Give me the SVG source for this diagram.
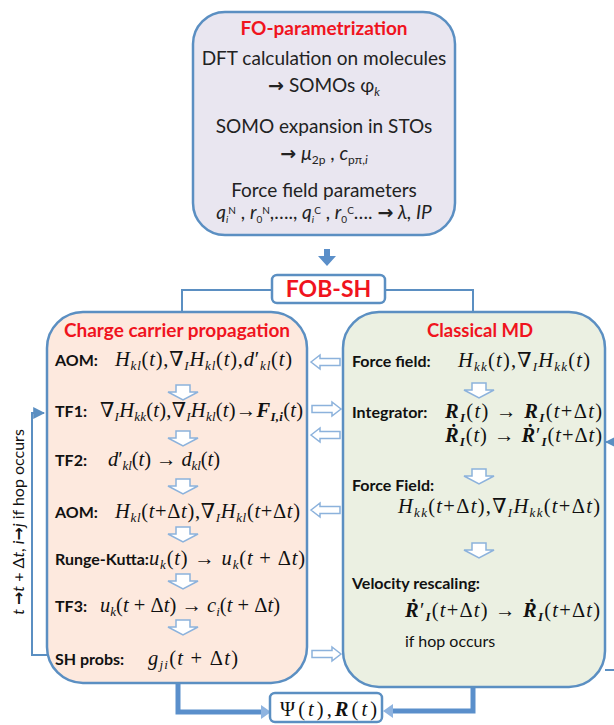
<svg xmlns="http://www.w3.org/2000/svg" width="614" height="725" viewBox="0 0 614 725">
<style>
.box{stroke:#5b8fc2;stroke-width:2.5}
.ln{fill:none;stroke:#5b8fc2;stroke-width:2}
.ha{fill:#fff;stroke:#8cb2dc;stroke-width:1.5}
.tt{font-family:Lato,"Liberation Sans",sans-serif;font-size:19px;fill:#222}
.ttl{font-family:Lato,"Liberation Sans",sans-serif;font-weight:bold;fill:#f0141e}
.lb{font-family:Lato,"Liberation Sans",sans-serif;font-weight:bold;font-size:16px;fill:#111}
.rg{font-family:Lato,"Liberation Sans",sans-serif;font-size:16px;fill:#111}
.m{font-family:"Liberation Serif","DejaVu Serif",serif;font-style:italic;font-size:20.5px;fill:#111}
.u{font-style:normal}
.s{font-size:13px}
.bi{font-weight:bold}
.ar{font-family:"DejaVu Sans",sans-serif;font-weight:bold;font-style:normal}
</style>
<defs>
<path id="dn" class="ha" d="M-7,0 H7 V7 H15 L0,15 L-15,7 H-7 Z"/>
<path id="lt" class="ha" d="M0,0 L9,-7 V-3.5 H29 V3.5 H9 V7 Z"/>
<path id="rt" class="ha" d="M0,0 L-9,-7 V-3.5 H-29 V3.5 H-9 V7 Z"/>
<marker id="ah" viewBox="0 0 10 10" refX="9" refY="5" markerWidth="6" markerHeight="6" orient="auto"><path d="M0,0 L10,5 L0,10 Z" fill="#5b8fc2"/></marker>
</defs>

<g id="connectors">
<path d="M324,249 H330 V256 H336 L327,266 L318,256 H324 Z" fill="#5b8fc9"/>
<path class="ln" d="M272,290 H182 V312"/>
<path class="ln" d="M385,290 H473 V312"/>
<path class="ln" d="M47,655 H32 V413 H44" stroke-width="1.5" marker-end="url(#ah)"/>
<path class="ln" d="M614,670 H605"/>
<path class="ln" d="M614,442 H606" marker-end="url(#ah)"/>
<use href="#lt" x="311" y="362"/>
<use href="#rt" x="341" y="409"/>
<use href="#lt" x="311" y="435"/>
<use href="#lt" x="311" y="510"/>
<use href="#rt" x="341" y="654"/>
<path d="M178,684 V712 H262" fill="none" stroke="#5a8fcb" stroke-width="5"/>
<path d="M261,705 L271,712 L261,719 Z" fill="#8fb4e0"/>
<path d="M473,688 V711 H392" fill="none" stroke="#5a8fcb" stroke-width="5"/>
<path d="M393,704 L383,711 L393,718 Z" fill="#8fb4e0"/>
</g>

<g id="fo-param">
<rect class="box" x="193" y="12" width="262" height="223" rx="32" fill="#e9e6f0"/>
<text class="ttl" x="324" y="35" text-anchor="middle" font-size="19">FO-parametrization</text>
<text class="tt" x="324" y="65" text-anchor="middle">DFT calculation on molecules</text>
<text class="tt" x="324" y="92" text-anchor="middle"><tspan class="ar">→</tspan> SOMOs φ<tspan font-style="italic" font-size="12" dy="4">k</tspan></text>
<text class="tt" x="324" y="133" text-anchor="middle">SOMO expansion in STOs</text>
<text class="tt" x="324" y="160" text-anchor="middle"><tspan class="ar">→</tspan> <tspan font-style="italic">μ</tspan><tspan font-size="12" dy="4">2p</tspan><tspan dy="-4"> , </tspan><tspan font-style="italic">c</tspan><tspan font-size="12" dy="4">pπ,</tspan><tspan font-size="12" font-style="italic">i</tspan></text>
<text class="tt" x="324" y="197" text-anchor="middle">Force field parameters</text>
<text class="tt" x="324" y="219" text-anchor="middle"><tspan font-style="italic">q</tspan><tspan font-size="10" font-style="italic" dy="4">i</tspan><tspan font-size="10" dy="-9">N</tspan><tspan dy="5"> , </tspan><tspan font-style="italic">r</tspan><tspan font-size="10" dy="4">0</tspan><tspan font-size="10" dy="-9">N</tspan><tspan dy="5">,…., </tspan><tspan font-style="italic">q</tspan><tspan font-size="10" font-style="italic" dy="4">i</tspan><tspan font-size="10" dy="-9">C</tspan><tspan dy="5"> , </tspan><tspan font-style="italic">r</tspan><tspan font-size="10" dy="4">0</tspan><tspan font-size="10" dy="-9">C</tspan><tspan dy="5">…. </tspan><tspan class="ar">→</tspan><tspan font-style="italic"> λ, IP</tspan></text>
</g>

<g id="fob-sh">
<rect class="box" x="272" y="275" width="113" height="28" rx="5" fill="#fff"/>
<text class="ttl" x="328.5" y="297" text-anchor="middle" font-size="23">FOB-SH</text>
</g>

<g id="charge-carrier">
<rect class="box" x="47" y="312" width="260" height="371" rx="36" fill="#fde9de"/>
<text class="ttl" x="177" y="337" text-anchor="middle" font-size="19">Charge carrier propagation</text>
<text class="lb" x="55" y="366">AOM:</text>
<text class="m" x="115" y="366" textLength="177">H<tspan class="s" dy="4">kl</tspan><tspan class="u" dy="-4">(</tspan>t<tspan class="u">),∇</tspan><tspan class="s" dy="4">I</tspan><tspan dy="-4">H</tspan><tspan class="s" dy="4">kl</tspan><tspan class="u" dy="-4">(</tspan>t<tspan class="u">),</tspan>d<tspan class="u">′</tspan><tspan class="s" dy="4">kl</tspan><tspan class="u" dy="-4">(</tspan>t<tspan class="u">)</tspan></text>
<use href="#dn" x="183" y="385"/>
<text class="lb" x="55" y="417">TF1:</text>
<text class="m" x="100" y="417" textLength="203"><tspan class="u">∇</tspan><tspan class="s" dy="4">I</tspan><tspan dy="-4">H</tspan><tspan class="s" dy="4">kk</tspan><tspan class="u" dy="-4">(</tspan>t<tspan class="u">),∇</tspan><tspan class="s" dy="4">I</tspan><tspan dy="-4">H</tspan><tspan class="s" dy="4">kl</tspan><tspan class="u" dy="-4">(</tspan>t<tspan class="u">)→</tspan><tspan class="bi">F</tspan><tspan class="s bi" dy="4">I,i</tspan><tspan class="u" dy="-4">(</tspan>t<tspan class="u">)</tspan></text>
<use href="#dn" x="183" y="431"/>
<text class="lb" x="55" y="466">TF2:</text>
<text class="m" x="108" y="466" textLength="112">d<tspan class="u">′</tspan><tspan class="s" dy="4">kl</tspan><tspan class="u" dy="-4">(</tspan>t<tspan class="u">) → </tspan>d<tspan class="s" dy="4">kl</tspan><tspan class="u" dy="-4">(</tspan>t<tspan class="u">)</tspan></text>
<use href="#dn" x="183" y="479"/>
<text class="lb" x="55" y="518">AOM:</text>
<text class="m" x="115" y="518" textLength="185">H<tspan class="s" dy="4">kl</tspan><tspan class="u" dy="-4">(</tspan>t<tspan class="u">+Δ</tspan>t<tspan class="u">),∇</tspan><tspan class="s" dy="4">I</tspan><tspan dy="-4">H</tspan><tspan class="s" dy="4">kl</tspan><tspan class="u" dy="-4">(</tspan>t<tspan class="u">+Δ</tspan>t<tspan class="u">)</tspan></text>
<use href="#dn" x="183" y="527"/>
<text class="lb" x="55" y="565">Runge-Kutta:</text>
<text class="m" x="149" y="565" textLength="156">u<tspan class="s" dy="4">k</tspan><tspan class="u" dy="-4">(</tspan>t<tspan class="u">) → </tspan>u<tspan class="s" dy="4">k</tspan><tspan class="u" dy="-4">(</tspan>t<tspan class="u"> + Δ</tspan>t<tspan class="u">)</tspan></text>
<use href="#dn" x="183" y="574"/>
<text class="lb" x="55" y="612">TF3:</text>
<text class="m" x="100" y="612" textLength="180">u<tspan class="s" dy="4">k</tspan><tspan class="u" dy="-4">(</tspan>t<tspan class="u"> + Δ</tspan>t<tspan class="u">) → </tspan>c<tspan class="s" dy="4">i</tspan><tspan class="u" dy="-4">(</tspan>t<tspan class="u"> + Δ</tspan>t<tspan class="u">)</tspan></text>
<use href="#dn" x="183" y="620"/>
<text class="lb" x="55" y="665">SH probs:</text>
<text class="m" x="148" y="665" textLength="90">g<tspan class="s" dy="4">ji</tspan><tspan class="u" dy="-4">(</tspan>t<tspan class="u"> + Δ</tspan>t<tspan class="u">)</tspan></text>
</g>

<g id="classical-md">
<rect class="box" x="343" y="312" width="262" height="375" rx="36" fill="#ebf0e2"/>
<text class="ttl" x="480" y="337" text-anchor="middle" font-size="18.5">Classical MD</text>
<text class="lb" x="352" y="367">Force field:</text>
<text class="m" x="458" y="367" textLength="132">H<tspan class="s" dy="4">kk</tspan><tspan class="u" dy="-4">(</tspan>t<tspan class="u">),∇</tspan><tspan class="s" dy="4">I</tspan><tspan dy="-4">H</tspan><tspan class="s" dy="4">kk</tspan><tspan class="u" dy="-4">(</tspan>t<tspan class="u">)</tspan></text>
<use href="#dn" x="479" y="383"/>
<text class="lb" x="352" y="418">Integrator:</text>
<text class="m" x="445" y="418" textLength="157"><tspan class="bi">R</tspan><tspan class="s bi" dy="4">I</tspan><tspan class="u" dy="-4">(</tspan>t<tspan class="u">) → </tspan><tspan class="bi">R</tspan><tspan class="s bi" dy="4">I</tspan><tspan class="u" dy="-4">(</tspan>t<tspan class="u">+Δ</tspan>t<tspan class="u">)</tspan></text>
<text class="m" x="445" y="442" textLength="157"><tspan class="bi">Ṙ</tspan><tspan class="s bi" dy="4">I</tspan><tspan class="u" dy="-4">(</tspan>t<tspan class="u">) → </tspan><tspan class="bi">Ṙ</tspan><tspan class="u">′</tspan><tspan class="s bi" dy="4">I</tspan><tspan class="u" dy="-4">(</tspan>t<tspan class="u">+Δ</tspan>t<tspan class="u">)</tspan></text>
<use href="#dn" x="479" y="469"/>
<text class="lb" x="352" y="491">Force Field:</text>
<text class="m" x="398" y="513" textLength="202">H<tspan class="s" dy="4">kk</tspan><tspan class="u" dy="-4">(</tspan>t<tspan class="u">+Δ</tspan>t<tspan class="u">),∇</tspan><tspan class="s" dy="4">I</tspan><tspan dy="-4">H</tspan><tspan class="s" dy="4">kk</tspan><tspan class="u" dy="-4">(</tspan>t<tspan class="u">+Δ</tspan>t<tspan class="u">)</tspan></text>
<use href="#dn" x="479" y="543"/>
<text class="lb" x="352" y="589">Velocity rescaling:</text>
<text class="m" x="405" y="617" textLength="195"><tspan class="bi">Ṙ</tspan><tspan class="u">′</tspan><tspan class="s bi" dy="4">I</tspan><tspan class="u" dy="-4">(</tspan>t<tspan class="u">+Δ</tspan>t<tspan class="u">) → </tspan><tspan class="bi">Ṙ</tspan><tspan class="s bi" dy="4">I</tspan><tspan class="u" dy="-4">(</tspan>t<tspan class="u">+Δ</tspan>t<tspan class="u">)</tspan></text>
<text class="rg" x="405" y="647">if hop occurs</text>
</g>

<g id="loop-label">
<text class="rg" transform="translate(24,522) rotate(-90)" text-anchor="middle" font-size="16.5"><tspan font-style="italic">t</tspan> <tspan class="ar">→</tspan><tspan font-style="italic">t</tspan> + Δ<tspan font-style="italic">t</tspan>, <tspan font-style="italic">i</tspan><tspan class="ar">→</tspan><tspan font-style="italic">j</tspan> if hop occurs</text>
</g>

<g id="output">
<rect class="box" x="270" y="693" width="112" height="29" rx="5" fill="#fff"/>
<text class="m" x="280" y="716" font-size="23" textLength="97"><tspan class="u">Ψ(</tspan>t<tspan class="u">),</tspan><tspan class="bi">R</tspan><tspan class="u">(</tspan>t<tspan class="u">)</tspan></text>
</g>
</svg>
